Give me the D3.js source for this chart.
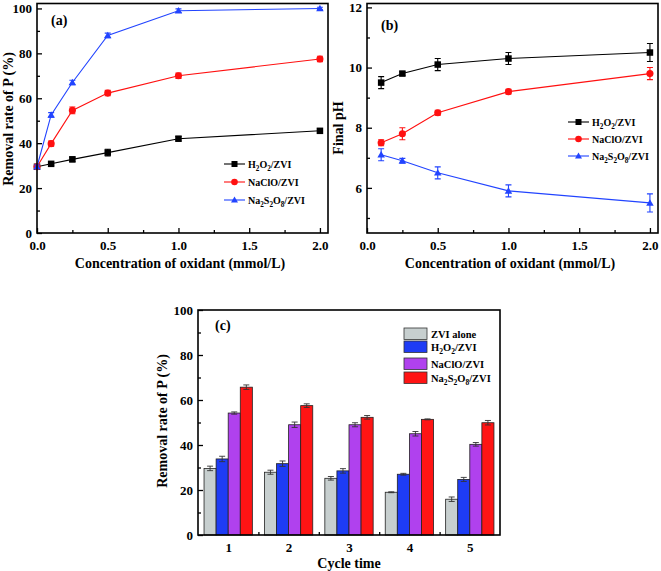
<!DOCTYPE html>
<html><head><meta charset="utf-8">
<script src="https://cdn.jsdelivr.net/npm/d3@7"></script>
<style>
body{margin:0;background:#fff}
text{font-family:"Liberation Serif","Times New Roman",serif;font-weight:bold;fill:#000}
</style></head>
<body><svg id="chart" width="661" height="571"></svg>
<script>
// ---------- Data ----------
const concA = [0, 0.1, 0.25, 0.5, 1, 2];
const removalH2O2 = [29.5, 30.8, 32.8, 35.8, 42.0, 45.5];
const errRemH2O2 = [0.8, 0.6, 1.0, 1.5, 1.0, 1.0];
const removalNaClO = [29.5, 39.8, 54.6, 62.3, 70.0, 77.5];
const errRemNaClO = [0.8, 1.2, 1.5, 1.2, 1.2, 1.2];
const removalNa2S2O8 = [29.5, 52.6, 67.0, 88.0, 99.0, 100.0];
const errRemNa2S2O8 = [0.8, 1.0, 1.0, 1.0, 0.8, 0.5];

const concB = [0.1, 0.25, 0.5, 1, 2];
const phH2O2 = [9.5, 9.8, 10.1, 10.3, 10.5];
const errPhH2O2 = [0.2, 0.06, 0.2, 0.2, 0.3];
const phNaClO = [7.5, 7.8, 8.5, 9.2, 9.8];
const errPhNaClO = [0.1, 0.2, 0.08, 0.08, 0.2];
const phNa2S2O8 = [7.1, 6.9, 6.5, 5.9, 5.5];
const errPhNa2S2O8 = [0.2, 0.08, 0.2, 0.2, 0.3];

const cycles = [1, 2, 3, 4, 5];
const cycZVI = [29.6, 27.9, 25.2, 19.0, 15.9];
const errZVI = [1.0, 0.9, 0.8, 0.2, 1.0];
const cycH2O2 = [33.8, 31.7, 28.5, 27.0, 24.7];
const errCycH2O2 = [1.2, 1.2, 1.0, 0.4, 0.9];
const cycNaClO = [54.2, 49.0, 49.0, 45.0, 40.3];
const errCycNaClO = [0.5, 1.2, 0.9, 1.0, 0.8];
const cycNa2S2O8 = [65.7, 57.5, 52.3, 51.4, 49.9];
const errCycNa2S2O8 = [1.0, 0.8, 0.8, 0.2, 1.0];

const lineSeriesNames = [["H","2","O","2","/ZVI"], ["NaClO/ZVI"], ["Na","2","S","2","O","8","/ZVI"]];
const barSeriesNames = [["ZVI alone"], ["H","2","O","2","/ZVI"], ["NaClO/ZVI"], ["Na","2","S","2","O","8","/ZVI"]];
const lineColors = ["#000000", "#ff1010", "#2244ff"];
const markers = ["square", "circle", "triangle"];
const barColors = ["#c7cfcf", "#1e3cf5", "#b041ee", "#ff1414"];

const xTicksConc = [0, 0.5, 1, 1.5, 2];
const xMinorConc = [0.25, 0.75, 1.25, 1.75];
const yTicksRem = [0, 20, 40, 60, 80, 100];
const yMinorRem = [10, 30, 50, 70, 90];
const yTicksPh = [6, 8, 10, 12];
const yMinorPh = [5, 7, 9, 11];
const xMinorCyc = [1.5, 2.5, 3.5, 4.5];

// ---------- Drawing ----------
const svg = d3.select("#chart");

function addLabel(sel, parts, baseSize) {
  let sub = false;
  if (parts.length === 1) { sel.text(parts[0]); return; }
  parts.forEach((p, i) => {
    const isSub = (i % 2 === 1) && /^\d+$/.test(p);
    sel.append("tspan").text(p)
      .attr("font-size", isSub ? baseSize * 0.72 : baseSize)
      .attr("dy", isSub ? (sub ? 0 : baseSize * 0.3) : (sub ? -baseSize * 0.3 : 0))
      .each(function(){ sub = isSub; });
  });
}

function frame(g, x, y) {
  const [x0, x1] = x.range(); const [y0, y1] = y.range();
  g.append("rect").attr("x", x0).attr("y", y1).attr("width", x1 - x0).attr("height", y0 - y1)
    .attr("fill", "none").attr("stroke", "#000").attr("stroke-width", 1.6);
}

function axes(g, x, y, xt, xmin, yt, ymin, xfmt, yfmt) {
  const y0 = y.range()[0], x0 = x.range()[0];
  const ax = g.append("g").attr("transform", `translate(0,${y0})`)
    .call(d3.axisBottom(x).tickValues(xt).tickSize(-5).tickPadding(8).tickFormat(xfmt));
  const axm = g.append("g").attr("transform", `translate(0,${y0})`)
    .call(d3.axisBottom(x).tickValues(xmin).tickSize(-3).tickFormat(""));
  const ay = g.append("g").attr("transform", `translate(${x0},0)`)
    .call(d3.axisLeft(y).tickValues(yt).tickSize(-5).tickPadding(5).tickFormat(yfmt));
  const aym = g.append("g").attr("transform", `translate(${x0},0)`)
    .call(d3.axisLeft(y).tickValues(ymin).tickSize(-3).tickFormat(""));
  [ax, axm, ay, aym].forEach(a => {
    a.select(".domain").remove();
    a.selectAll("line").attr("stroke", "#000").attr("stroke-width", 1.3);
    a.selectAll("text").attr("font-size", 13).attr("font-family", "Liberation Serif").attr("font-weight", "bold");
  });
}

function marker(g, type, cx, cy, color, s) {
  if (type === "square") {
    g.append("rect").attr("x", cx - s/2).attr("y", cy - s/2).attr("width", s).attr("height", s).attr("fill", color);
  } else if (type === "circle") {
    g.append("circle").attr("cx", cx).attr("cy", cy).attr("r", s/2 + 0.3).attr("fill", color);
  } else {
    const h = s * 0.95;
    g.append("path").attr("d", `M${cx},${cy - h*0.6}L${cx + s/2 + 0.5},${cy + h*0.45}L${cx - s/2 - 0.5},${cy + h*0.45}Z`).attr("fill", color);
  }
}

function linePanel(g, x, y, xs, series, errs) {
  series.forEach((vals, si) => {
    const col = lineColors[si];
    const pts = xs.map((xv, i) => [xv, vals[i], errs[si][i]]);
    g.append("path").datum(pts).attr("fill", "none").attr("stroke", col).attr("stroke-width", 1.1)
      .attr("d", d3.line().x(d => x(d[0])).y(d => y(d[1])));
    pts.forEach(d => {
      const cx = x(d[0]);
      g.append("path").attr("stroke", col).attr("stroke-width", 1.1).attr("fill", "none")
        .attr("d", `M${cx},${y(d[1]-d[2])}V${y(d[1]+d[2])}M${cx-3},${y(d[1]-d[2])}H${cx+3}M${cx-3},${y(d[1]+d[2])}H${cx+3}`);
      marker(g, markers[si], cx, y(d[1]), col, 6.5);
    });
  });
}

function lineLegend(g, lx, ly, gap) {
  lineSeriesNames.forEach((nm, i) => {
    const yy = ly + i * gap;
    g.append("line").attr("x1", lx).attr("x2", lx + 21).attr("y1", yy).attr("y2", yy)
      .attr("stroke", lineColors[i]).attr("stroke-width", 1.1);
    marker(g, markers[i], lx + 10.5, yy, lineColors[i], 6);
    const t = g.append("text").attr("x", lx + 24).attr("y", yy + 3.5).attr("font-size", 10);
    addLabel(t, nm, 10);
  });
}

// ----- Panel (a) -----
const gA = svg.append("g");
const xA = d3.scaleLinear().domain([0, 2.057]).range([37, 328]);
const yA = d3.scaleLinear().domain([0, 102.2]).range([233, 3.5]);
axes(gA, xA, yA, xTicksConc, xMinorConc, yTicksRem, yMinorRem, d3.format(".1f"), d3.format("d"));
linePanel(gA, xA, yA, concA, [removalH2O2, removalNaClO, removalNa2S2O8], [errRemH2O2, errRemNaClO, errRemNa2S2O8]);
frame(gA, xA, yA);
lineLegend(gA, 224, 164, 18);
gA.append("text").attr("x", 51).attr("y", 25).attr("font-size", 14).text("(a)");
gA.append("text").attr("transform", "translate(13,119) rotate(-90)").attr("text-anchor", "middle").attr("font-size", 14).text("Removal rate of P (%)");
gA.append("text").attr("x", 180).attr("y", 268).attr("text-anchor", "middle").attr("font-size", 14).text("Concentration of oxidant (mmol/L)");

// ----- Panel (b) -----
const gB = svg.append("g");
const xB = d3.scaleLinear().domain([0, 2.057]).range([367, 658]);
const yB = d3.scaleLinear().domain([4.5, 12.13]).range([233, 3.5]);
axes(gB, xB, yB, xTicksConc, xMinorConc, yTicksPh, yMinorPh, d3.format(".1f"), d3.format("d"));
linePanel(gB, xB, yB, concB, [phH2O2, phNaClO, phNa2S2O8], [errPhH2O2, errPhNaClO, errPhNa2S2O8]);
frame(gB, xB, yB);
lineLegend(gB, 568, 122, 17);
gB.append("text").attr("x", 381).attr("y", 30).attr("font-size", 14).text("(b)");
gB.append("text").attr("transform", "translate(343,128) rotate(-90)").attr("text-anchor", "middle").attr("font-size", 14).text("Final pH");
gB.append("text").attr("x", 510).attr("y", 268).attr("text-anchor", "middle").attr("font-size", 14).text("Concentration of oxidant (mmol/L)");

// ----- Panel (c) -----
const gC = svg.append("g");
const xC = d3.scaleLinear().domain([0.5, 5.5]).range([198, 500]);
const yC = d3.scaleLinear().domain([0, 100]).range([535, 310]);
const band = d3.scaleBand().domain(cycles).range([198, 500]).paddingInner(0.2).paddingOuter(0.1);
const sub = d3.scaleBand().domain(d3.range(4)).range([0, band.bandwidth()]);
const barVals = [cycZVI, cycH2O2, cycNaClO, cycNa2S2O8];
const barErrs = [errZVI, errCycH2O2, errCycNaClO, errCycNa2S2O8];
axes(gC, xC, yC, cycles, xMinorCyc, yTicksRem, yMinorRem, d3.format("d"), d3.format("d"));
barVals.forEach((vals, si) => {
  cycles.forEach((c, i) => {
    const bx = band(c) + sub(si);
    gC.append("rect").attr("x", bx).attr("y", yC(vals[i])).attr("width", sub.bandwidth())
      .attr("height", yC(0) - yC(vals[i])).attr("fill", barColors[si]).attr("stroke", "#222").attr("stroke-width", 0.8);
    const cx = bx + sub.bandwidth() / 2, e = barErrs[si][i];
    gC.append("path").attr("stroke", "#333").attr("stroke-width", 0.9).attr("fill", "none")
      .attr("d", `M${cx},${yC(vals[i]-e)}V${yC(vals[i]+e)}M${cx-3},${yC(vals[i]-e)}H${cx+3}M${cx-3},${yC(vals[i]+e)}H${cx+3}`);
  });
});
frame(gC, xC, yC);
const legY = [328, 341, 358, 372];
barSeriesNames.forEach((nm, i) => {
  gC.append("rect").attr("x", 404).attr("y", legY[i]).attr("width", 23).attr("height", 11.5)
    .attr("fill", barColors[i]).attr("stroke", "#333").attr("stroke-width", 0.8);
  const t = gC.append("text").attr("x", 431).attr("y", legY[i] + 9.5).attr("font-size", 10.5);
  addLabel(t, nm, 10.5);
});
gC.append("text").attr("x", 215).attr("y", 330).attr("font-size", 14).text("(c)");
gC.append("text").attr("transform", "translate(167,421) rotate(-90)").attr("text-anchor", "middle").attr("font-size", 14).text("Removal rate of P (%)");
gC.append("text").attr("x", 349).attr("y", 568).attr("text-anchor", "middle").attr("font-size", 14).text("Cycle time");
</script></body></html>
